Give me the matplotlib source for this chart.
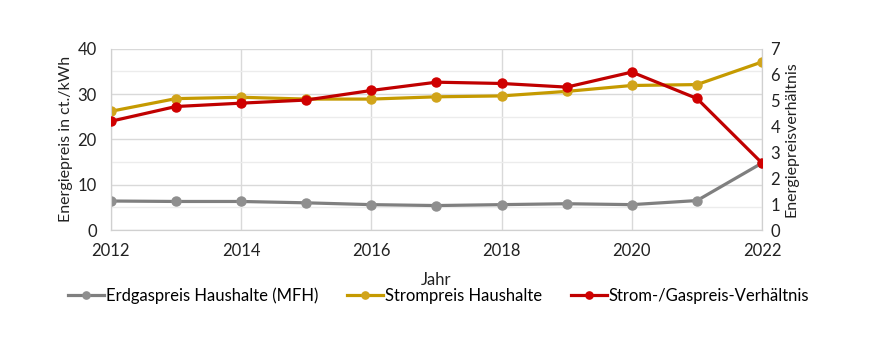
import matplotlib.pyplot as plt
from matplotlib.ticker import MultipleLocator

plt.rcParams['font.family'] = ['Lato', 'DejaVu Sans']

# Values
years = [2012, 2013, 2014, 2015, 2016, 2017, 2018, 2019, 2020, 2021, 2022]
gas_price = [6.4, 6.3, 6.3, 6.0, 5.6, 5.4, 5.6, 5.8, 5.6, 6.5, 14.8]
power_price = [26.2, 29.0, 29.3, 28.9, 28.9, 29.4, 29.6, 30.6, 31.9, 32.1, 37.1]
ratio = [4.2, 4.77, 4.9, 5.02, 5.39, 5.71, 5.66, 5.52, 6.1, 5.08, 2.58]

labels = ["Erdgaspreis Haushalte (MFH)", "Strompreis Haushalte",
          "Strom-/Gaspreis-Verhältnis"]
gas_col = "#7f7f7f"
power_col = "#c59a00"
ratio_col = "#c00000"
fs = 12

fig = plt.figure(figsize=(8.72, 3.4), dpi=100)
ax = fig.add_axes([0.127, 0.3235, 0.747, 0.533])
ax2 = ax.twinx()

l1, = ax.plot(years, gas_price, color=gas_col, lw=2.3, marker='o', ms=6.5,
              mfc="#8f8f8f", mec="#8f8f8f", label=labels[0], zorder=3)
l2, = ax.plot(years, power_price, color=power_col, lw=2.3, marker='o', ms=6.5,
              mfc="#d1a41a", mec="#d1a41a", label=labels[1], zorder=3)
l3, = ax2.plot(years, ratio, color=ratio_col, lw=2.3, marker='o', ms=6.5,
               mfc="#d00000", mec="#d00000", label=labels[2], zorder=3)

ax.set_xlim(2012, 2022)
ax.set_ylim(0, 40)
ax2.set_ylim(0, 7)
ax.set_xticks(range(2012, 2023, 2))
ax.yaxis.set_major_locator(MultipleLocator(10))
ax.yaxis.set_minor_locator(MultipleLocator(5))
ax2.yaxis.set_major_locator(MultipleLocator(1))

ax.grid(True, which='major', color="#d9d9d9", lw=1.0)
ax.grid(True, which='minor', axis='y', color="#ececec", lw=1.0)
ax.set_axisbelow(True)

for a in (ax, ax2):
    a.spines['top'].set_visible(False)
    for side in ('left', 'right', 'bottom'):
        a.spines[side].set_color("#d0d0d0")
    a.tick_params(which='both', length=0, labelsize=fs, colors="#222222")

ax.tick_params(axis='x', pad=9)
ax.tick_params(axis='y', pad=10)
ax2.tick_params(axis='y', pad=6)

ax.set_ylabel("Energiepreis in ct./kWh", fontsize=11.5, color="#222222", labelpad=3)
ax2.set_ylabel("Energiepreisverhältnis", fontsize=11.5, color="#222222", labelpad=3)
ax.set_xlabel("Jahr", fontsize=fs, color="#222222", labelpad=10)

fig.legend(handles=[l1, l2, l3], loc='center', bbox_to_anchor=(0.503, 0.13),
           ncol=3, frameon=False, fontsize=fs, handlelength=2.2,
           handletextpad=0.1, columnspacing=1.7, markerscale=0.8)

fig.savefig("out.png", dpi=100)
